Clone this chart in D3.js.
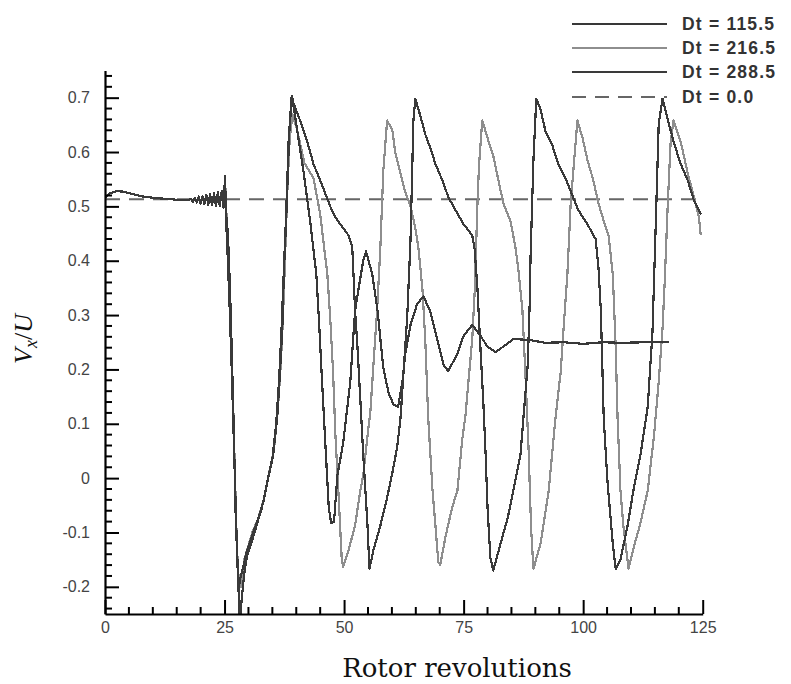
<!DOCTYPE html>
<html>
<head>
<meta charset="utf-8">
<script src="https://cdn.jsdelivr.net/npm/d3@7"></script>
<style>
  html, body { margin: 0; padding: 0; background: #fff; }
  svg { display: block; }
</style>
</head>
<body>
<svg id="chart" width="791" height="684"></svg>
<script>
// ---------------- data ----------------
const seriesLabels = ["Dt = 115.5", "Dt = 216.5", "Dt = 288.5", "Dt = 0.0"];
const revTicks = [0, 25, 50, 75, 100, 125];
const revMinorTicks = [5, 10, 15, 20, 30, 35, 40, 45, 55, 60, 65, 70, 80, 85, 90, 95, 105, 110, 115, 120];
const vTicks = [-0.2, -0.1, 0, 0.1, 0.2, 0.3, 0.4, 0.5, 0.6, 0.7];
const vTickLabels = ["-0.2", "-0.1", "0", "0.1", "0.2", "0.3", "0.4", "0.5", "0.6", "0.7"];
const vMinorTicks = [-0.24, -0.22, -0.18, -0.16, -0.14, -0.12, -0.08, -0.06, -0.04, -0.02,
  0.02, 0.04, 0.06, 0.08, 0.12, 0.14, 0.16, 0.18, 0.22, 0.24, 0.26, 0.28, 0.32, 0.34, 0.36, 0.38,
  0.42, 0.44, 0.46, 0.48, 0.52, 0.54, 0.56, 0.58, 0.62, 0.64, 0.66, 0.68, 0.72, 0.74];

// shared start-up phase (all runs coincide)
const startPhase = [[0,0.516],[1,0.524],[2.5,0.528],[4,0.527],[6,0.522],[8,0.518],[11,0.515],[14,0.513],
  [16,0.511],[17.5,0.511],[18,0.514],[18.4,0.508],[18.8,0.516],[19.2,0.507],[19.6,0.518],[20,0.505],
  [20.4,0.519],[20.8,0.504],[21.2,0.521],[21.6,0.503],[22,0.522],[22.4,0.502],[22.8,0.524],[23.2,0.501],
  [23.6,0.526],[24,0.5],[24.4,0.528],[24.8,0.498],[25.1,0.556]];

// Dt = 115.5 (damped, settles at 0.25)
const run115 = [[25.3,0.49],[25.7,0.45],[26.1,0.36],[26.5,0.24],[26.9,0.1],[27.3,-0.06],[27.7,-0.16],[28.0,-0.2],
  [28.4,-0.18],[29.0,-0.16],[29.5,-0.14],[30.4,-0.115],[31.8,-0.08],[33.1,-0.045],[34.1,0.0],[35.2,0.045],
  [36.0,0.11],[36.6,0.195],[37.1,0.28],[37.4,0.375],[38.0,0.5],[38.5,0.63],[39.1,0.704],
  [40.2,0.64],[41.5,0.565],[42.9,0.473],[44.2,0.375],[44.8,0.282],[45.4,0.177],[46.2,0.044],[46.8,-0.054],
  [47.3,-0.083],[47.9,-0.08],[48.6,0.005],[49.8,0.064],[51.3,0.177],[52.3,0.308],[53.0,0.347],[54.0,0.40],
  [54.6,0.417],[55.9,0.375],[57.0,0.308],[57.6,0.255],[58.2,0.203],[59.3,0.157],[60.3,0.136],[61.3,0.131],
  [62.2,0.177],[62.8,0.229],[63.9,0.282],[65.3,0.321],[66.6,0.334],[68.0,0.308],[69.5,0.255],[70.8,0.208],
  [71.8,0.197],[73.7,0.229],[75.0,0.262],[76.8,0.282],[78.5,0.262],[80.0,0.242],[81.7,0.232],[83.3,0.242],
  [85.4,0.256],[89.0,0.254],[92,0.249],[96,0.25],[100,0.247],[104,0.25],[108,0.249],[113,0.25],[117.9,0.25]];

// Dt = 216.5 (period ~20 rev)
const run216 = [[25.3,0.5],[25.8,0.43],[26.3,0.3],[26.8,0.14],[27.2,0.0],[27.6,-0.13],[28.0,-0.19],[28.5,-0.2],
  [29.1,-0.15],[29.8,-0.13],[30.8,-0.1],[32.0,-0.075],[33.2,-0.04],[34.2,0.005],[35.3,0.05],[36.1,0.12],
  [36.7,0.2],[37.2,0.29],[37.6,0.39],[38.1,0.52],[38.6,0.62],[39.2,0.67],
  [40.2,0.64],[41.7,0.58],[43.6,0.552],[45.0,0.486],[46.5,0.375],[47.1,0.295],[47.7,0.195],[48.2,0.077],
  [48.8,-0.023],[49.5,-0.147],[49.8,-0.163],[50.9,-0.134],[52.3,-0.087],[53.4,-0.023],[54.0,0.005],
  [54.8,0.07],[55.5,0.123],[56.1,0.203],[56.9,0.308],[57.6,0.427],[58.2,0.565],[59.0,0.658],[60.1,0.64],
  [60.7,0.599],[61.8,0.56],[62.8,0.526],[63.9,0.50],[64.9,0.46],[65.5,0.427],[66.4,0.347],[67.0,0.25],
  [67.6,0.11],[68.5,-0.023],[69.1,-0.087],[69.7,-0.154],[70.1,-0.16],[71.2,-0.108],[72.6,-0.054],
  [73.7,-0.023],[74.7,0.07],[75.4,0.116],[76.0,0.177],[76.8,0.255],[77.3,0.341],[77.9,0.506],[78.2,0.572],
  [78.9,0.658],[80.2,0.62],[81.2,0.593],[82.3,0.547],[83.3,0.506],[84.8,0.473],[85.8,0.427],[86.5,0.38],
  [87.3,0.308],[87.9,0.195],[88.6,0.05],[89.1,-0.09],[89.6,-0.167],[91.1,-0.12],[92.8,-0.023],[94.2,0.11],
  [95.3,0.195],[95.9,0.275],[96.7,0.375],[97.4,0.506],[98.0,0.572],[98.8,0.658],[99.9,0.625],[100.9,0.585],
  [102.0,0.552],[103.2,0.506],[104.3,0.473],[105.3,0.447],[106.2,0.375],[106.8,0.242],[107.2,0.11],
  [107.8,-0.023],[108.4,-0.087],[109.5,-0.167],[110.5,-0.13],[112.0,-0.082],[113.5,-0.023],[114.8,0.077],
  [115.8,0.177],[116.6,0.275],[117.1,0.37],[117.7,0.506],[118.3,0.619],[118.9,0.658],[120.4,0.619],
  [121.9,0.56],[123.1,0.519],[124.2,0.48],[124.6,0.447]];

// Dt = 288.5 (period ~25 rev)
const run288 = [[25.3,0.48],[25.6,0.42],[26.0,0.33],[26.5,0.2],[27.0,0.05],[27.5,-0.1],[27.9,-0.2],[28.2,-0.27],
  [28.6,-0.22],[29.2,-0.17],[29.8,-0.14],[30.6,-0.12],[31.6,-0.09],[32.8,-0.055],[33.9,-0.01],[35.0,0.035],
  [35.8,0.1],[36.4,0.18],[36.9,0.27],[37.3,0.36],[37.9,0.49],[38.4,0.62],[39.0,0.70],
  [40.8,0.658],[42.3,0.619],[43.6,0.578],[45.4,0.539],[47.1,0.5],[48.2,0.48],[49.2,0.467],[50.9,0.447],
  [51.7,0.427],[51.9,0.388],[52.3,0.308],[52.8,0.242],[53.4,0.144],[54.0,0.044],[54.9,-0.087],[55.3,-0.167],
  [56.1,-0.134],[57.6,-0.087],[59.0,-0.036],[60.1,0.01],[61.1,0.057],[61.8,0.11],[62.4,0.19],[63.2,0.295],
  [63.9,0.44],[64.5,0.658],[64.9,0.698],[66.0,0.665],[67.0,0.632],[68.1,0.606],[69.1,0.578],[70.6,0.547],
  [71.8,0.517],[73.3,0.493],[75.0,0.467],[76.8,0.447],[77.3,0.421],[77.9,0.347],[78.5,0.242],[79.1,0.144],
  [79.6,0.044],[80.0,-0.054],[80.6,-0.147],[81.2,-0.17],[82.7,-0.121],[84.2,-0.074],[85.4,-0.023],
  [86.9,0.044],[87.5,0.11],[88.4,0.208],[88.8,0.316],[89.0,0.408],[89.6,0.585],[90.2,0.698],[91.1,0.678],
  [92.1,0.639],[93.6,0.611],[94.8,0.578],[96.3,0.552],[97.8,0.519],[99.0,0.493],[100.9,0.467],[102.6,0.44],
  [103.2,0.388],[103.7,0.308],[104.3,0.11],[105.1,-0.008],[106.2,-0.121],[106.8,-0.167],[107.8,-0.15],
  [109.3,-0.087],[110.5,-0.023],[112.0,0.044],[113.5,0.131],[114.5,0.269],[115.2,0.473],[115.8,0.652],
  [116.6,0.698],[117.7,0.66],[118.9,0.619],[120.4,0.578],[121.9,0.547],[123.1,0.513],[124.2,0.493],[124.6,0.485]];

// Dt = 0.0 (steady reference)
const run0 = [[0,0.513],[125,0.513]];

// ---------------- drawing ----------------
const svg = d3.select("#chart");
const x = d3.scaleLinear().domain([0, 125]).range([105, 702.7]);
const y = d3.scaleLinear().domain([-0.25, 0.75]).range([614, 70.5]);

const colors = ["#383838", "#8e8e8e", "#3a3a3a", "#666666"];

svg.append("defs").append("clipPath").attr("id", "plotclip")
  .append("rect").attr("x", x(0)).attr("y", y(0.75) - 5)
  .attr("width", x(125) - x(0) + 2).attr("height", y(-0.25) - y(0.75) + 5);

const line = d3.line().x(d => x(d[0])).y(d => y(d[1]));
const plot = svg.append("g").attr("clip-path", "url(#plotclip)");

plot.append("path").datum(run0).attr("d", line)
  .attr("fill", "none").attr("stroke", colors[3]).attr("stroke-width", 2)
  .attr("stroke-dasharray", "15,9");

const runs = [
  { data: startPhase.concat(run216), c: colors[1] },
  { data: startPhase.concat(run115), c: colors[0] },
  { data: startPhase.concat(run288), c: colors[2] }
];
runs.forEach(r => {
  plot.append("path").datum(r.data).attr("d", line)
    .attr("fill", "none").attr("stroke", r.c).attr("stroke-width", 2.2)
    .attr("stroke-linejoin", "round").attr("shape-rendering", "crispEdges");
});

// axes
const tickFont = "'Liberation Sans', Arial, sans-serif";

const gx = svg.append("g").attr("transform", `translate(0,${y(-0.25)})`);
gx.call(d3.axisBottom(x).tickValues(revTicks).tickSizeInner(-14).tickSizeOuter(0).tickPadding(8)
  .tickFormat(d3.format("d")));
gx.selectAll("line.minor").data(revMinorTicks).enter().append("line").attr("class", "minor")
  .attr("x1", d => x(d)).attr("x2", d => x(d)).attr("y1", 0).attr("y2", -7);

const gy = svg.append("g").attr("transform", `translate(${x(0)},0)`);
gy.call(d3.axisLeft(y).tickValues(vTicks).tickSizeInner(-14).tickSizeOuter(0).tickPadding(15)
  .tickFormat((d, i) => vTickLabels[i]));
gy.selectAll("line.minor").data(vMinorTicks).enter().append("line").attr("class", "minor")
  .attr("x1", 0).attr("x2", 7).attr("y1", d => y(d)).attr("y2", d => y(d));

svg.selectAll(".domain").attr("stroke", "#000").attr("stroke-width", 2.2);
svg.selectAll(".tick line, line.minor").attr("stroke", "#000").attr("stroke-width", 2);
svg.selectAll(".tick text").attr("font-family", tickFont).attr("font-size", 16).attr("fill", "#444");

// axis titles
svg.append("text").attr("x", 457).attr("y", 677).attr("text-anchor", "middle")
  .attr("font-family", "'DejaVu Serif', serif").attr("font-size", 26).attr("fill", "#111")
  .text("Rotor revolutions");

const yt = svg.append("text").attr("transform", "translate(32,339) rotate(-90)")
  .attr("text-anchor", "middle").attr("font-family", "'Liberation Serif', 'Times New Roman', serif")
  .attr("font-size", 26).attr("fill", "#111");
yt.append("tspan").attr("font-style", "italic").text("V");
yt.append("tspan").attr("font-style", "italic").attr("font-size", 18).attr("dy", 5).text("x");
yt.append("tspan").attr("dy", -5).text("/");
yt.append("tspan").attr("font-style", "italic").text("U");

// legend
const legRows = [24, 48, 72, 97];
const legColors = [colors[0], colors[1], colors[2], colors[3]];
seriesLabels.forEach((lab, i) => {
  const g = svg.append("g");
  g.append("line").attr("x1", 572).attr("x2", 667).attr("y1", legRows[i]).attr("y2", legRows[i])
    .attr("stroke", legColors[i]).attr("stroke-width", 2)
    .attr("stroke-dasharray", i === 3 ? "14,9" : null);
  g.append("text").attr("x", 682).attr("y", legRows[i] + 6)
    .attr("font-family", tickFont).attr("font-weight", "bold").attr("font-size", 17.5)
    .attr("letter-spacing", 1.2).attr("fill", "#333").text(lab);
});
</script>
</body>
</html>
